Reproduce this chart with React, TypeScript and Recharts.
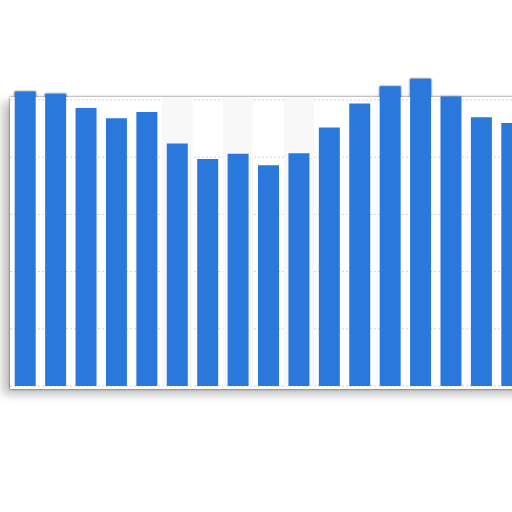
import { BarChart, Bar, XAxis, YAxis, CartesianGrid } from 'recharts'

const categories = ['1', '2', '3', '4', '5', '6', '7', '8', '9', '10', '11', '12', '13', '14', '15', '16', '17']
const values = [5.15, 5.11, 4.86, 4.68, 4.79, 4.24, 3.97, 4.06, 3.86, 4.07, 4.52, 4.94, 5.24, 5.37, 5.06, 4.7, 4.6]
const shaded = [0, 0, 0, 0, 0, 1, 0, 1, 0, 1, 0, 0, 0, 0, 0, 0, 0]
const yTicks = [0, 1, 2, 3, 4, 5]

const CARD_TOP = 5.05

const data = categories.map((name, i) => ({
  name,
  value: values[i],
  band: shaded[i] ? CARD_TOP : 0,
}))

export default function App() {
  return (
    <div style={{ position: 'fixed', left: 0, top: 0, width: 512, height: 512, overflow: 'hidden', background: '#fff' }}>
      <div
        style={{
          position: 'absolute',
          left: 0,
          top: 0,
          width: 540,
          height: 400,
          filter: 'drop-shadow(0 0.5px 1.3px rgba(0,0,0,0.6)) drop-shadow(0 1px 1px rgba(0,0,0,0.12))',
        }}
      >
        <div
          style={{
            position: 'absolute',
            left: 10,
            top: 97,
            width: 540,
            height: 292,
            background: '#fff',
            boxShadow: '-7px 5px 10px rgba(0,0,0,0.16)',
          }}
        />
        <div style={{ position: 'absolute', left: 0, top: 0 }}>
          <BarChart width={540} height={400} data={data} margin={{ top: 76, right: 13, bottom: 14, left: 10 }} barCategoryGap="15.5%">
            <CartesianGrid vertical={false} horizontalValues={yTicks} stroke="#d2d2d2" strokeDasharray="2 2" />
            <XAxis dataKey="name" height={0} tick={false} tickLine={false} axisLine={{ stroke: '#111', strokeWidth: 1.5 }} />
            <XAxis xAxisId="band" dataKey="name" hide />
            <YAxis hide width={0} domain={[0, 5.42]} ticks={yTicks} allowDataOverflow />
            <Bar xAxisId="band" dataKey="band" fill="#f8f8f8" barSize={30.4} isAnimationActive={false} />
            <Bar dataKey="value" fill="#2b78dc" isAnimationActive={false} />
          </BarChart>
        </div>
      </div>
    </div>
  )
}
